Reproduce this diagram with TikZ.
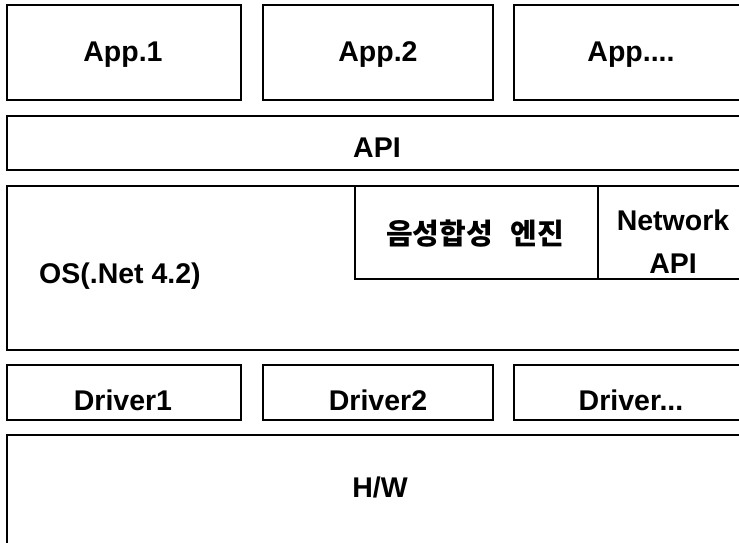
\documentclass[tikz,border=0pt]{standalone}
\usepackage{fontspec}
\setmainfont{Liberation Sans}
\newfontfamily\kofont{Noto Sans CJK KR}
\begin{document}
\begin{tikzpicture}[x=1pt,y=-1pt,
  box/.style={draw=black,line width=1.8pt,fill=white},
  lbl/.style={font=\fontsize{28.5}{32}\selectfont\bfseries,inner sep=0pt,anchor=base},
  kolbl/.style={font=\fontsize{29}{32}\selectfont\kofont\bfseries,inner sep=0pt,anchor=base}]
\useasboundingbox (0,0) rectangle (739,543);
\clip (0,0) rectangle (739,543);
\fill[white] (0,0) rectangle (739,543);
% application row
\path[box] (7,5) rectangle (241,100) coordinate (app1);
\path[box] (263,5) rectangle (493,100) coordinate (app2);
\path[box] (514,5) rectangle (770,100) coordinate (app3);
\node[lbl] (tapp1) at (123,62) {App.1};
\node[lbl] (tapp2) at (378,62) {App.2};
\node[lbl] (tapp3) at (631,62) {App....};
% API
\path[box] (7,116) rectangle (770,170) coordinate (api);
\node[lbl] (tapi) at (377,157) {API};
% OS
\path[box] (7,186) rectangle (770,350) coordinate (os);
\path[box] (355,186) rectangle (598,279) coordinate (tts);
\path[box] (598,186) rectangle (770,279) coordinate (net);
\node[lbl,anchor=base west] (tos) at (39,283) {OS(.Net 4.2)};
\node[kolbl] (ttts) at (475,244) {음성합성\hspace{0.6em}엔진};
\node[lbl] (tnet1) at (673,230) {Network};
\node[lbl] (tnet2) at (673,273) {API};
% drivers
\path[box] (7,365) rectangle (241,420) coordinate (drv1);
\path[box] (263,365) rectangle (493,420) coordinate (drv2);
\path[box] (514,365) rectangle (770,420) coordinate (drv3);
\node[lbl] (tdrv1) at (123,410) {Driver1};
\node[lbl] (tdrv2) at (378,410) {Driver2};
\node[lbl] (tdrv3) at (631,410) {Driver...};
% hardware
\path[box] (7,435) rectangle (770,570) coordinate (hw);
\node[lbl] (thw) at (380,497) {H/W};
\end{tikzpicture}
\end{document}
